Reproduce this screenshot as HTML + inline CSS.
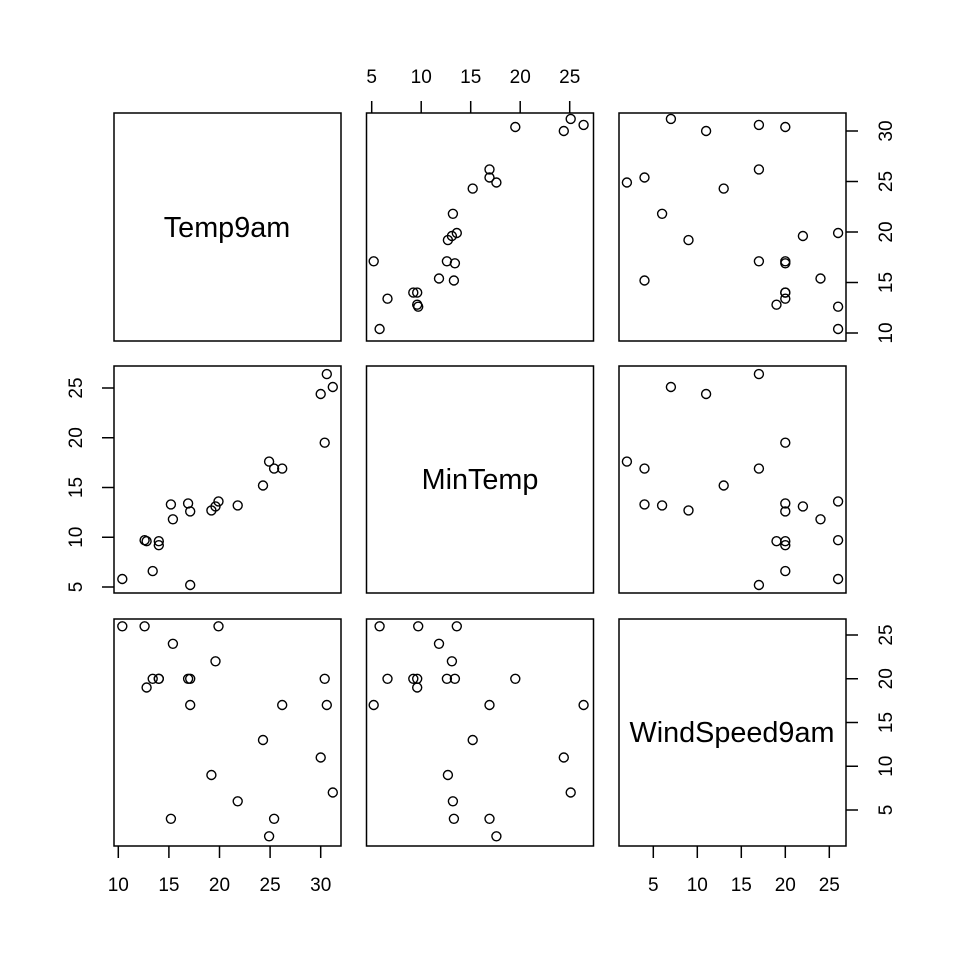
<!DOCTYPE html>
<html><head><meta charset="utf-8"><style>
html,body{margin:0;padding:0;background:#fff}
svg{display:block}
text{font-family:"Liberation Sans",Arial,sans-serif;fill:#000}
</style></head><body>
<svg id="s" width="960" height="960" viewBox="0 0 960 960" xmlns="http://www.w3.org/2000/svg">
<g fill="none" stroke="#000" stroke-width="1.5">
<rect x="114" y="113" width="227" height="228"/>
<rect x="366.5" y="113" width="227" height="228"/>
<rect x="619" y="113" width="227" height="228"/>
<rect x="114" y="366" width="227" height="227"/>
<rect x="366.5" y="366" width="227" height="227"/>
<rect x="619" y="366" width="227" height="227"/>
<rect x="114" y="619" width="227" height="227"/>
<rect x="366.5" y="619" width="227" height="227"/>
<rect x="619" y="619" width="227" height="227"/>
</g>
<g font-size="28.8" text-anchor="middle">
<text x="227" y="237">Temp9am</text>
<text x="480" y="489">MinTemp</text>
<text x="732" y="742">WindSpeed9am</text>
</g>
<g id="ax" stroke="#000" stroke-width="1.5" fill="none"></g>
<g id="lb" font-size="19" text-anchor="middle"></g>
<g id="pts" stroke="#000" stroke-width="1.4" fill="none"></g>
</svg>
<script>
var d=[[10.4,5.8,26],[12.6,9.7,26],[12.8,9.6,19],[13.4,6.6,20],[14.0,9.6,20],[14.0,9.2,20],[15.2,13.3,4],[15.4,11.8,24],[16.9,13.4,20],[17.1,12.6,20],[17.1,5.2,17],[19.2,12.7,9],[19.6,13.1,22],[19.9,13.6,26],[21.8,13.2,6],[24.3,15.2,13],[24.9,17.6,2],[25.4,16.9,4],[26.2,16.9,17],[30.4,19.5,20],[30.0,24.4,11],[30.6,26.4,17],[31.2,25.1,7]];
var fx=[function(v){return 118.3+(v-10)*10.12},function(v){return 371.7+(v-5)*9.9},function(v){return 653.3+(v-5)*8.8}];
var fy=[function(v){return 333-(v-10)*10.1},function(v){return 587-(v-5)*9.95},function(v){return 810-(v-5)*8.75}];
var ns="http://www.w3.org/2000/svg";
function el(p,t,a,txt){var e=document.createElementNS(ns,t);for(var k in a)e.setAttribute(k,a[k]);if(txt)e.textContent=txt;document.getElementById(p).appendChild(e);}
for(var r=0;r<3;r++)for(var c=0;c<3;c++){if(r==c)continue;d.forEach(function(p){el('pts','circle',{cx:fx[c](p[c]).toFixed(1),cy:fy[r](p[r]).toFixed(1),r:4.5});});}
[5,10,15,20,25].forEach(function(v){var x=fx[1](v);el('ax','line',{x1:x,y1:113,x2:x,y2:101});el('lb','text',{x:x,y:83},''+v);});
[10,15,20,25,30].forEach(function(v){var x=fx[0](v);el('ax','line',{x1:x,y1:846,x2:x,y2:858});el('lb','text',{x:x,y:891},''+v);});
[5,10,15,20,25].forEach(function(v){var x=fx[2](v);el('ax','line',{x1:x,y1:846,x2:x,y2:858});el('lb','text',{x:x,y:891},''+v);});
[10,15,20,25,30].forEach(function(v){var y=fy[0](v);el('ax','line',{x1:846,y1:y,x2:858,y2:y});el('lb','text',{x:0,y:0,transform:'translate(892,'+y+') rotate(-90)'},''+v);});
[5,10,15,20,25].forEach(function(v){var y=fy[2](v);el('ax','line',{x1:846,y1:y,x2:858,y2:y});el('lb','text',{x:0,y:0,transform:'translate(892,'+y+') rotate(-90)'},''+v);});
[5,10,15,20,25].forEach(function(v){var y=fy[1](v);el('ax','line',{x1:114,y1:y,x2:102,y2:y});el('lb','text',{x:0,y:0,transform:'translate(82,'+y+') rotate(-90)'},''+v);});
</script>
</body></html>
